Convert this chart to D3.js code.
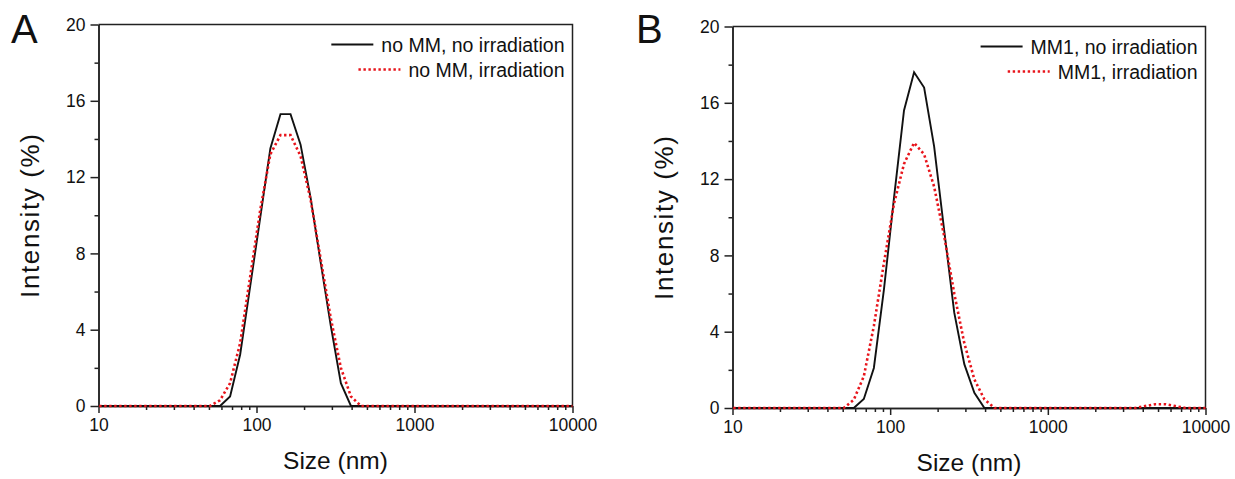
<!DOCTYPE html>
<html>
<head>
<meta charset="utf-8">
<script src="https://cdn.jsdelivr.net/npm/d3@7"></script>
<style>
  body { margin: 0; background: #fff; }
  text { font-family: 'Liberation Sans', Arial, sans-serif; fill: #111; }
</style>
</head>
<body>
<figure style="margin:0"></figure>
<script>
const width = 1235
const height = 479

// size bins (nm)
const sizes = [10.10, 11.70, 13.54, 15.69, 18.17, 21.04, 24.36, 28.21, 32.67, 37.84, 43.82,
  50.75, 58.77, 68.06, 78.82, 91.28, 105.7, 122.4, 141.8, 164.2, 190.1, 220.2, 255.0,
  295.3, 342.0, 396.1, 458.7, 531.2, 615.1, 712.4, 825.0, 955.4, 1106, 1281, 1484, 1718,
  1990, 2305, 2669, 3091, 3580, 4145, 4801, 5560, 6439, 7456, 8635, 10000]

const noMMNoIrr = [0, 0, 0, 0, 0, 0, 0, 0, 0, 0, 0,
  0, 0, 0.5, 2.7, 6.3, 9.9, 13.5, 15.3, 15.3, 13.7, 10.9, 7.5,
  4.2, 1.2, 0, 0, 0, 0, 0, 0, 0, 0, 0, 0, 0,
  0, 0, 0, 0, 0, 0, 0, 0, 0, 0, 0, 0]
const noMMIrr = [0, 0, 0, 0, 0, 0, 0, 0, 0, 0, 0,
  0, 0.3, 1.2, 3.3, 6.8, 10.3, 13.2, 14.2, 14.2, 13.1, 10.8, 7.7,
  4.6, 2.0, 0.5, 0, 0, 0, 0, 0, 0, 0, 0, 0, 0,
  0, 0, 0, 0, 0, 0, 0, 0, 0, 0, 0, 0]
const mm1NoIrr = [0, 0, 0, 0, 0, 0, 0, 0, 0, 0, 0,
  0, 0, 0.47, 2.1, 6.2, 11.0, 15.6, 17.6, 16.8, 13.7, 9.3, 5.0,
  2.3, 0.8, 0, 0, 0, 0, 0, 0, 0, 0, 0, 0, 0,
  0, 0, 0, 0, 0, 0, 0, 0, 0, 0, 0, 0]
const mm1Irr = [0, 0, 0, 0, 0, 0, 0, 0, 0, 0, 0,
  0, 0.43, 1.66, 4.3, 7.6, 10.7, 12.8, 13.9, 13.3, 11.6, 9.0, 6.0,
  3.4, 1.5, 0.45, 0, 0, 0, 0, 0, 0, 0, 0, 0, 0,
  0, 0, 0, 0, 0, 0.1, 0.2, 0.2, 0.1, 0, 0, 0]

const xMajor = [10, 100, 1000, 10000]
const xMinor = [20, 30, 40, 50, 60, 70, 80, 90, 200, 300, 400, 500, 600, 700, 800, 900,
  2000, 3000, 4000, 5000, 6000, 7000, 8000, 9000]
const yMajor = [0, 4, 8, 12, 16, 20]
const yMinor = [2, 6, 10, 14, 18]

const panels = [
  { tag: 'A', tagX: 11, left: 98.5, top: 24.5, right: 572.5, bottom: 406,
    series: [noMMNoIrr, noMMIrr], names: ['no MM, no irradiation', 'no MM, irradiation'] },
  { tag: 'B', tagX: 636, left: 732.5, top: 26.5, right: 1205.5, bottom: 408,
    series: [mm1NoIrr, mm1Irr], names: ['MM1, no irradiation', 'MM1, irradiation'] }
]

const styles = [
  { stroke: '#111', width: 1.9, dash: null },
  { stroke: '#e8141b', width: 2.6, dash: '2.4,2.6' }
]

const svg = d3.select('figure').append('svg')
  .attr('width', width)
  .attr('height', height)

const drawPanel = (p) => {
  const x = d3.scaleLog().domain([10, 10000]).range([p.left, p.right])
  const y = d3.scaleLinear().domain([0, 20]).range([p.bottom, p.top])
  const g = svg.append('g')

  // frame top + right
  g.append('path')
    .attr('d', `M${p.left},${p.top}H${p.right}V${p.bottom}`)
    .attr('fill', 'none')
    .attr('stroke', '#222')
    .attr('stroke-width', 1.5)

  const xAx = g.append('g')
    .attr('transform', `translate(0,${p.bottom})`)
    .call(d3.axisBottom(x).tickValues(xMajor).tickFormat(d3.format('d')).tickSize(7).tickSizeOuter(0).tickPadding(6))
  g.append('g')
    .attr('transform', `translate(0,${p.bottom})`)
    .call(d3.axisBottom(x).tickValues(xMinor).tickFormat('').tickSize(4).tickSizeOuter(0))

  const yAx = g.append('g')
    .attr('transform', `translate(${p.left},0)`)
    .call(d3.axisLeft(y).tickValues(yMajor).tickSize(8).tickSizeOuter(0).tickPadding(5))
  g.append('g')
    .attr('transform', `translate(${p.left},0)`)
    .call(d3.axisLeft(y).tickValues(yMinor).tickFormat('').tickSize(4).tickSizeOuter(0))

  g.selectAll('.domain, .tick line').attr('stroke', '#222').attr('stroke-width', 1.5)
  xAx.selectAll('text').attr('font-size', 17.5).attr('fill', '#111')
  yAx.selectAll('text').attr('font-size', 17.5).attr('fill', '#111')

  // axis titles
  g.append('text')
    .attr('x', (p.left + p.right) / 2)
    .attr('y', p.bottom + 63)
    .attr('text-anchor', 'middle')
    .attr('font-size', 24.5)
    .text('Size (nm)')
  g.append('text')
    .attr('transform', `translate(${p.left - 60},${(p.top + p.bottom) / 2}) rotate(-90)`)
    .attr('text-anchor', 'middle')
    .attr('font-size', 26)
    .attr('letter-spacing', 1.6)
    .text('Intensity (%)')

  g.append('text')
    .attr('x', p.tagX)
    .attr('y', 43)
    .attr('font-size', 40)
    .text(p.tag)

  const line = d3.line()
    .x((d, i) => x(sizes[i]))
    .y(d => y(d))

  p.series.forEach((s, k) => {
    g.append('path')
      .datum(s)
      .attr('d', line)
      .attr('fill', 'none')
      .attr('stroke', styles[k].stroke)
      .attr('stroke-width', styles[k].width)
      .attr('stroke-dasharray', styles[k].dash)
  })

  // legend
  p.names.forEach((name, k) => {
    const ty = p.top + 27 + k * 25
    const t = g.append('text')
      .attr('x', p.right - 8)
      .attr('y', ty)
      .attr('text-anchor', 'end')
      .attr('font-size', 19.5)
      .text(name)
    const w = t.node().getComputedTextLength()
    const x2 = p.right - 8 - w - 8
    g.append('line')
      .attr('x1', x2 - 42).attr('x2', x2)
      .attr('y1', ty - 7).attr('y2', ty - 7)
      .attr('stroke', styles[k].stroke)
      .attr('stroke-width', styles[k].width)
      .attr('stroke-dasharray', styles[k].dash)
  })
}

panels.forEach(drawPanel)
</script>
</body>
</html>
